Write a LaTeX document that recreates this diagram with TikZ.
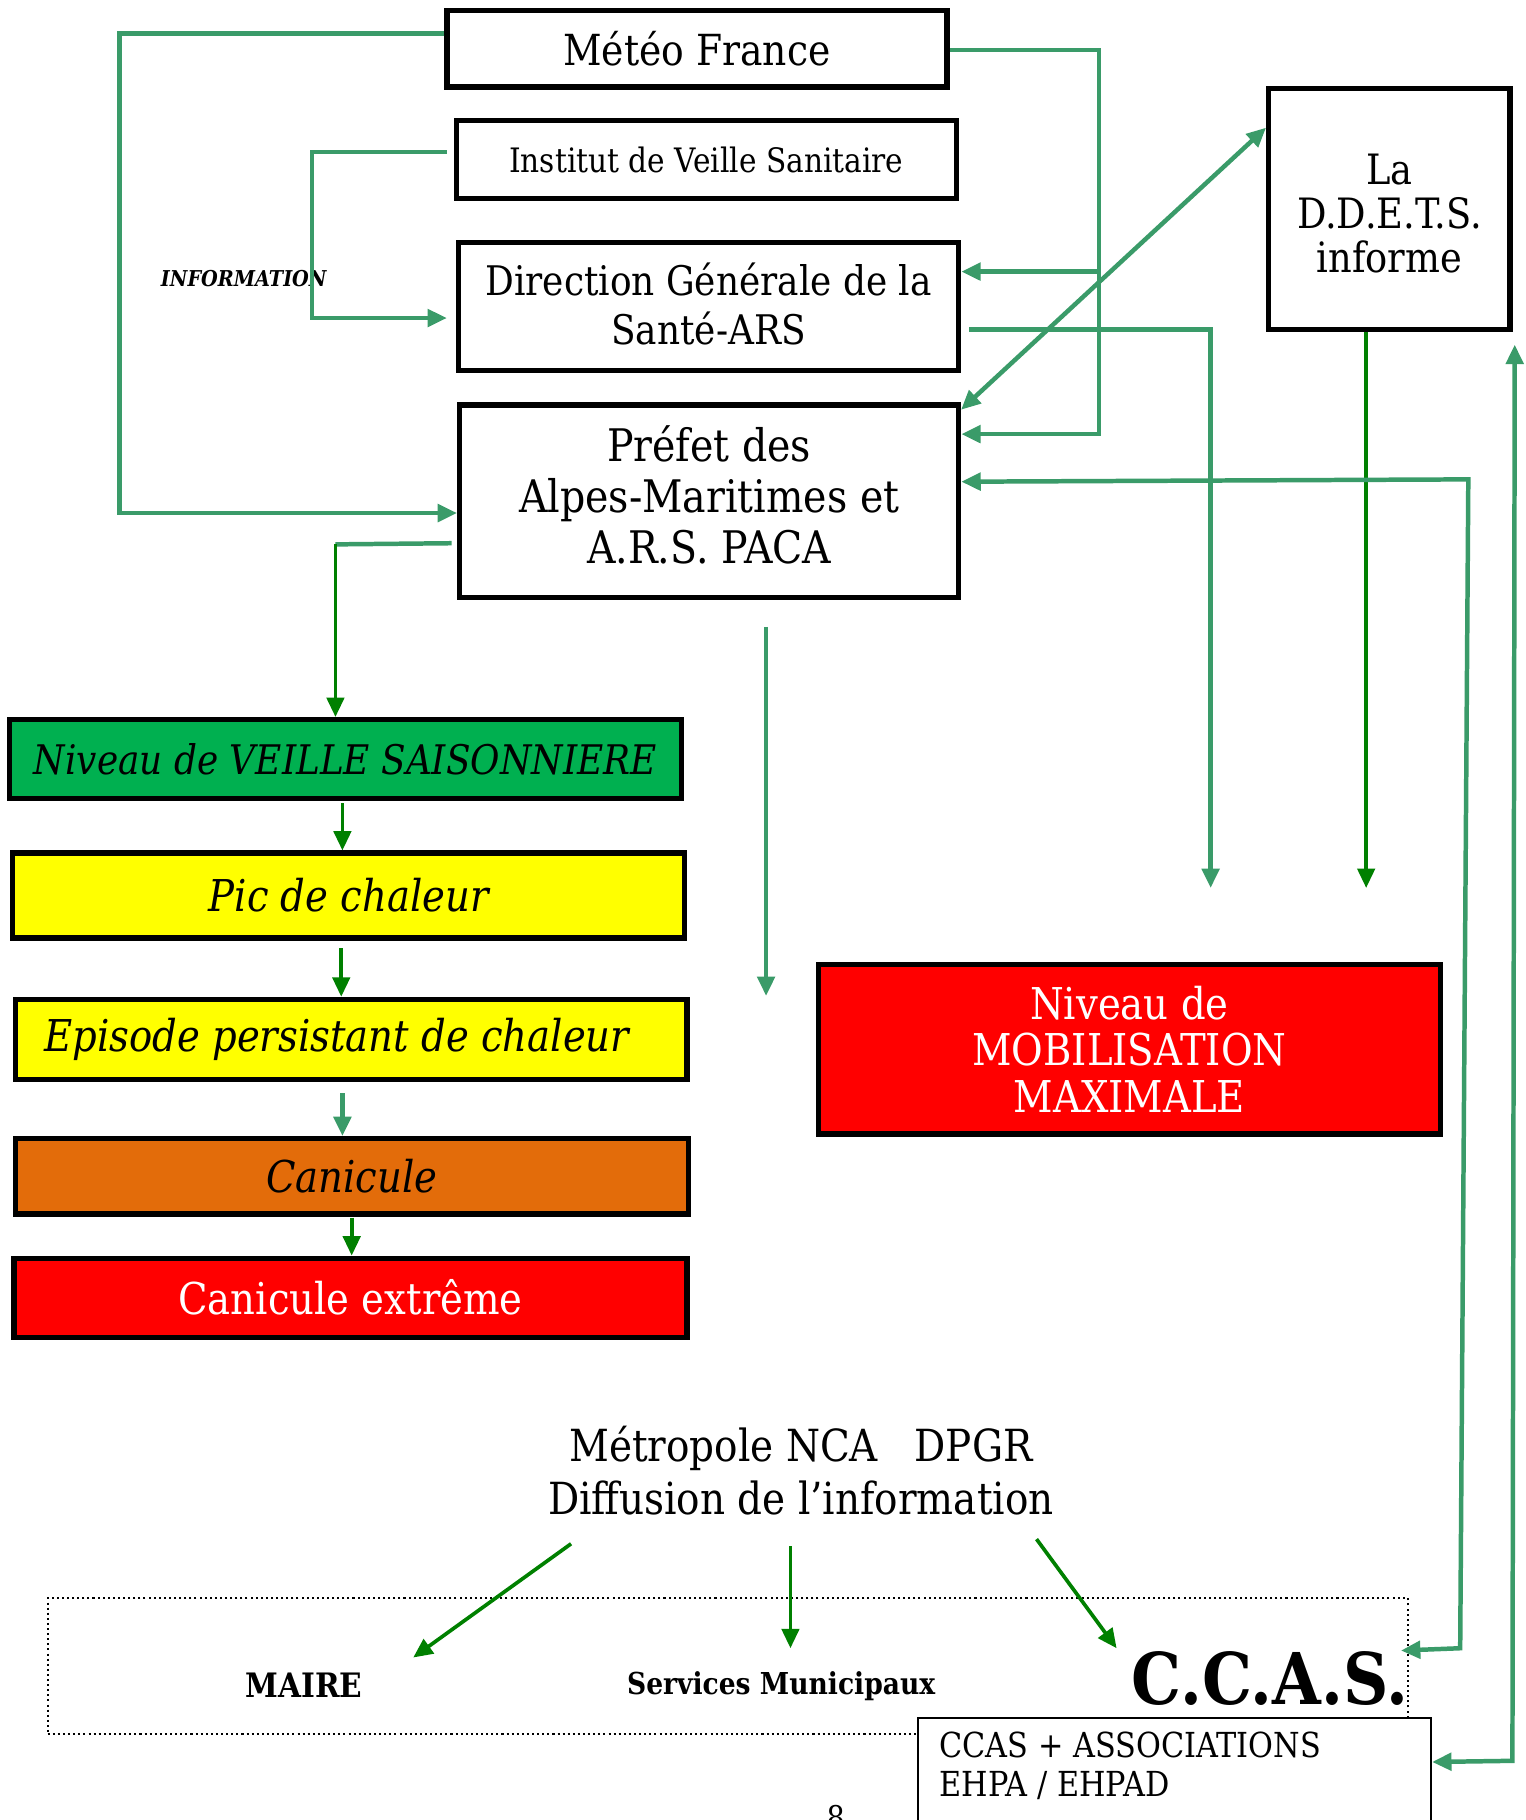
\documentclass[tikz,border=0pt]{standalone}
\usepackage{fontspec}
\setmainfont{DejaVu Serif}[FakeStretch=0.88]
\usetikzlibrary{arrows.meta}
\definecolor{tealg}{RGB}{58,155,105}
\definecolor{darkg}{RGB}{0,128,0}
\definecolor{fillgreen}{RGB}{0,176,80}
\definecolor{fillorange}{RGB}{227,108,10}
\definecolor{fillyellow}{RGB}{255,255,0}
\definecolor{fillred}{RGB}{255,0,0}
\tikzset{
  box/.style={draw=black, line width=2.6pt, inner sep=0pt, align=center},
  tl/.style={draw=tealg, line width=2.2pt},
  gl/.style={draw=darkg, line width=1.8pt},
  ttip/.style={-{Stealth[length=9.5pt,width=8.5pt,inset=0pt]}},
  ttips/.style={{Stealth[length=9.5pt,width=8.5pt,inset=0pt]}-{Stealth[length=9.5pt,width=8.5pt,inset=0pt]}},
  fs/.style 2 args={font=\fontsize{#1}{#2}\selectfont},
  boxtext/.style={align=center, inner sep=0pt},
}
\begin{document}
\begin{tikzpicture}[x=0.02cm,y=-0.02cm]
\useasboundingbox (0,0) rectangle (1314,1568);
% boxes
\node[box, minimum width=8.62cm, minimum height=1.32cm, fs={21}{24}] (meteo) at (600.5,42) {Météo France};
\node[box, minimum width=8.62cm, minimum height=1.34cm, fs={16.5}{19}] (invs) at (608.5,137.5) {Institut de Veille Sanitaire};
\node[box, minimum width=8.62cm, minimum height=2.2cm] (dgs) at (610.5,264) {};
\node[boxtext, fs={20}{24}] (dgstext) at ([yshift=0.05cm]dgs.center) {Direction Générale de la\\Santé-ARS};
\node[box, minimum width=8.6cm, minimum height=3.32cm] (prefet) at (611,432) {};
\node[boxtext, fs={22}{25}] (prefettext) at ([yshift=0.12cm]prefet.center) {Préfet des\\Alpes-Maritimes et\\A.R.S. PACA};
\node[box, minimum width=4.16cm, minimum height=4.16cm] (ddets) at (1197,180) {};
\node[boxtext, fs={20.5}{21.8}] (ddetstext) at ([yshift=-0.08cm]ddets.center) {La\\D.D.E.T.S.\\informe};
\node[box, fill=fillgreen, minimum width=11.58cm, minimum height=1.36cm, fs={20}{22}] (veille) at (297.5,654) {\itshape Niveau de VEILLE SAISONNIERE};
\node[box, fill=fillyellow, minimum width=11.58cm, minimum height=1.46cm, fs={21.5}{26}] (pic) at (300.5,771.5) {\itshape Pic de chaleur};
\node[box, fill=fillyellow, minimum width=11.58cm, minimum height=1.38cm, fs={21.5}{24}] (episode) at (302.5,895.5) {\itshape Episode persistant de chaleur\hspace{14pt}};
\node[box, fill=fillorange, minimum width=11.6cm, minimum height=1.3cm, fs={21.5}{26}] (canicule) at (303,1013.5) {\itshape Canicule};
\node[box, fill=fillred, text=white, minimum width=11.6cm, minimum height=1.36cm, fs={21.5}{25}] (extreme) at (302,1118) {Canicule extrême};
\node[box, fill=fillred, text=white, minimum width=10.72cm, minimum height=2.92cm, fs={21.5}{23}] (mobil) at (973,904) {Niveau de\\MOBILISATION\\MAXIMALE};
% labels
\node[fs={10.7}{12}] (info) at (210,240) {\bfseries\itshape INFORMATION};
\node[fs={21.7}{25.6}, align=center] (metro) at (690,1267) {Métropole NCA\hspace{18pt}DPGR\\Diffusion de l’information};
\node[draw=black, line width=1pt, dash pattern=on 1pt off 1.5pt, minimum width=23.44cm, minimum height=2.34cm] (dotbox) at (627,1435.5) {};
\node[fs={16.5}{18}] (maire) at (262,1452) {\bfseries MAIRE};
\node[fs={14.8}{18}] (services) at (673,1453) {\bfseries Services Municipaux};
\node[fs={35}{40}] (ccas) at (1094,1446) {\bfseries C.C.A.S.};
\node[draw=black, fill=white, line width=1pt, minimum width=8.84cm, minimum height=2.6cm] (ccasbox) at (1012,1545) {};
\node[fs={16.9}{18.8}, anchor=north west, align=left, inner sep=0pt] (ccastext) at (809,1492) {CCAS + ASSOCIATIONS\\EHPA / EHPAD};
\node[fs={16}{18}] (page) at (720,1566) {8};
% connectors
\draw[tl, ttip] (meteo.west|-0,29) -- (103,29) -- (103,442) -- (prefet.west|-0,442);
\draw[tl, ttip] (385,131) -- (269,131) -- (269,274) -- (385,274);
\coordinate (mr) at (947,43);
\draw[tl, ttip] (meteo.east|-0,43) -- (mr) -- (947,374) -- (prefet.east|-0,374);
\draw[tl, ttip] (947,234) -- (dgs.east|-0,234);
\draw[tl, ttip] (835,284) -- (1043,284) -- (1043,765);
\draw[gl, ttip] (ddets.south-|1177,0) -- (1177,765);
\draw[tl, ttips] (828,353) -- (ddets.west|-0,110);
\draw[tl, ttips] (prefet.east|-0,415) -- (1265,413) -- (1258,1420) -- (1207,1422);
\draw[tl, ttips] (ccasbox.east|-0,1518) -- (1303,1517) -- (1305,297);
\draw[tl] (389,468) -- (289,469);
\draw[gl, ttip] (289,469) -- (veille.north-|289,0);
\draw[tl, ttip] (660,540) -- (660,858);
\draw[gl, ttip] (295,692) -- (pic.north-|295,0);
\draw[gl, ttip] (294,817) -- (episode.north-|294,0);
\draw[tl, ttip] (295,942) -- (canicule.north-|295,0);
\draw[gl, ttip] (303,1049) -- (extreme.north-|303,0);
\draw[gl, ttip] (492,1330) -- (356,1428);
\draw[gl, ttip] (681,1332) -- (681,1420);
\draw[gl, ttip] (893,1326) -- (962,1420);
\end{tikzpicture}
\end{document}
